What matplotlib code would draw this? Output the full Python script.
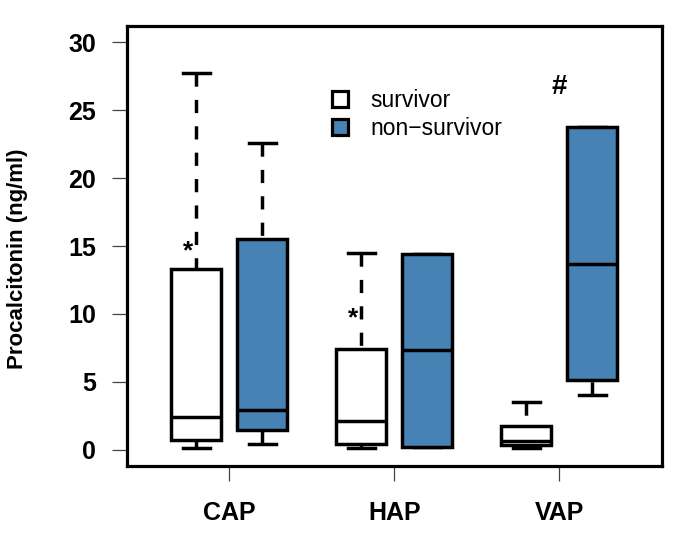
import matplotlib
matplotlib.use("Agg")
import matplotlib.pyplot as plt
from matplotlib.patches import Patch

# ---- data ----
groups = ["CAP", "HAP", "VAP"]
series = ["survivor", "non\u2212survivor"]
# per group: [survivor, non-survivor]
whislo = [[0.12, 0.44], [0.12, 0.19], [0.12, 4.0]]
q1 = [[0.69, 1.42], [0.44, 0.19], [0.32, 5.11]]
med = [[2.40, 2.90], [2.11, 7.37], [0.63, 13.71]]
q3 = [[13.29, 15.55], [7.44, 14.39], [1.74, 23.73]]
whishi = [[27.75, 22.6], [14.49, 14.39], [3.51, 23.73]]
ytick_vals = [0, 5, 10, 15, 20, 25, 30]
# significance marks: (group index, series index, y value, symbol)
marks = [(0, 0, 14.6, "*"), (1, 0, 9.7, "*"), (2, None, 26.7, "#")]

colors = ["white", "#4682B4"]

plt.rcParams['font.family'] = ['Liberation Sans', 'DejaVu Sans']

fig = plt.figure(figsize=(6.85, 5.39), dpi=100)
ax = fig.add_axes([127/685, 1-466/539, 535/685, 440/539])

offset = 0.2
bw = 0.303
lw = 2.5
for s in range(2):
    stats = []
    pos = []
    for g in range(3):
        stats.append(dict(med=med[g][s], q1=q1[g][s], q3=q3[g][s],
                          whislo=whislo[g][s], whishi=whishi[g][s], fliers=[]))
        pos.append(g + 1 + (offset if s == 1 else -offset))
    bp = ax.bxp(stats, positions=pos, widths=bw, capwidths=bw*0.54,
                patch_artist=True, showfliers=False,
                boxprops=dict(facecolor=colors[s], edgecolor="black", linewidth=lw),
                medianprops=dict(color="black", linewidth=lw, solid_capstyle="butt"),
                whiskerprops=dict(color="black", linewidth=lw, dashes=(3.8, 3.8)),
                capprops=dict(color="black", linewidth=lw))
    for b in bp["boxes"]:
        b.set_zorder(3)
    for m in bp["medians"]:
        m.set_zorder(4)
    # dash pattern starts at the cap end, like the reference
    for w in bp["whiskers"]:
        xd, yd = w.get_data()
        w.set_data(list(xd)[::-1], list(yd)[::-1])

for g, s, y, sym in marks:
    x = g + 1 if s is None else g + 1 + (offset if s == 1 else -offset) - 0.05
    ax.text(x, y, sym, ha="center", va="center",
            fontsize=20 if sym == "#" else 19, fontweight="bold")

ax.set_xlim(0.38, 3.622)
ax.set_ylim(-1.2, 31.2)
ax.set_xticks([1, 2, 3])
ax.set_xticklabels(groups, fontsize=18, fontweight="bold")
ax.set_yticks(ytick_vals)
ax.set_yticklabels([str(v) for v in ytick_vals], fontsize=18, fontweight="bold")
ax.tick_params(axis="both", length=10.5, width=0.9, color="#444444")
ax.tick_params(axis="y", pad=12)
ax.tick_params(axis="x", pad=15)
for sp in ax.spines.values():
    sp.set_linewidth(2.3)
ax.set_ylabel("Procalcitonin (ng/ml)", fontsize=16, fontweight="bold")
ax.yaxis.label.set_va("center")
ax.yaxis.set_label_coords((18 - 127) / 535, (466 - 259) / 440)

handles = [Patch(facecolor=c, edgecolor="black", linewidth=2.3) for c in colors]
ax.legend(handles, series, loc="upper left", bbox_to_anchor=(0.383, 0.857),
          frameon=False, fontsize=16.5, handlelength=0.72, handleheight=0.72,
          handletextpad=0.95, labelspacing=0.22, borderpad=0, borderaxespad=0)

fig.savefig("out.png", dpi=100)
